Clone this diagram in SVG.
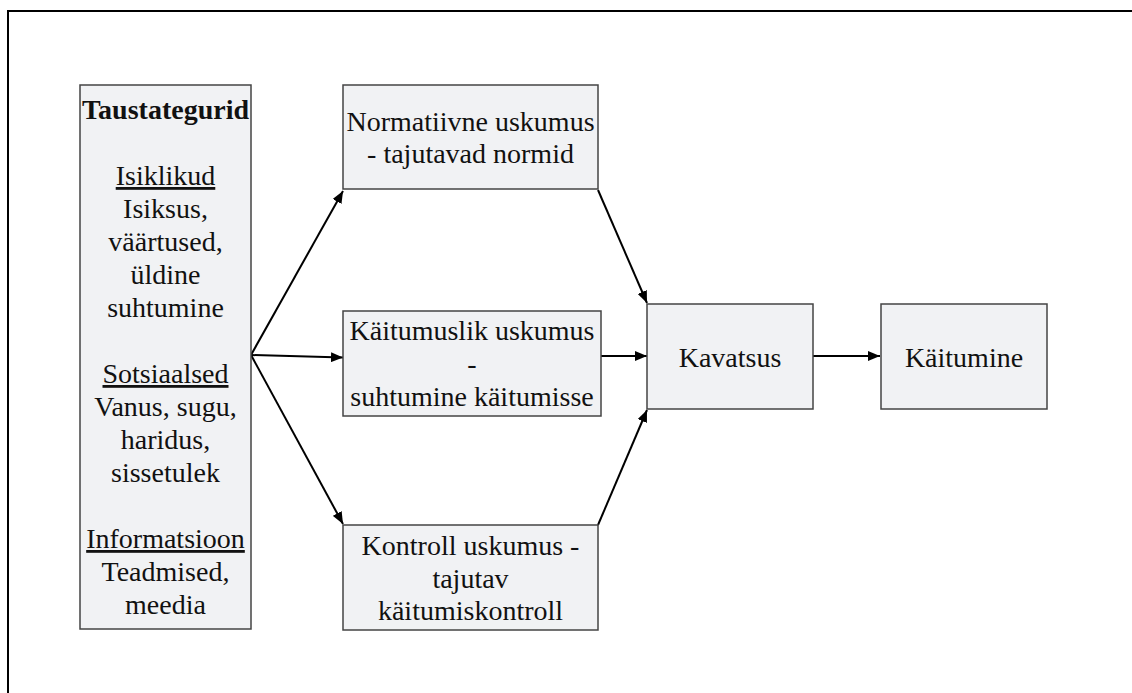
<svg xmlns="http://www.w3.org/2000/svg" width="1132" height="693" viewBox="0 0 1132 693">
<defs>
<marker id="ah" viewBox="0 0 12 10" refX="12" refY="5" markerWidth="12" markerHeight="10" markerUnits="userSpaceOnUse" orient="auto">
<path d="M0,0 L12,5 L0,10 Z" fill="#000"/>
</marker>
<style>
.box{fill:#f1f2f4;stroke:#444;stroke-width:1.5}
.t{font-family:"Liberation Serif","Times New Roman",serif;font-size:28px;fill:#111;text-anchor:middle}
.b{font-weight:bold}
.u{text-decoration:underline}
.c{stroke:#000;stroke-width:2;fill:none;marker-end:url(#ah)}
</style>
</defs>
<rect width="1132" height="693" fill="#fff"/>
<rect x="8" y="11" width="1200" height="800" fill="none" stroke="#000" stroke-width="2"/>
<g id="connectors">
<line class="c" x1="251" y1="355" x2="343" y2="191"/>
<line class="c" x1="251" y1="355" x2="343" y2="357.5"/>
<line class="c" x1="251" y1="355" x2="343" y2="524"/>
<line class="c" x1="598" y1="190" x2="647" y2="303"/>
<line class="c" x1="601" y1="356" x2="647" y2="356"/>
<line class="c" x1="598" y1="525" x2="647" y2="410"/>
<line class="c" x1="813" y1="356" x2="880" y2="356"/>
</g>
<g id="taustategurid">
<rect class="box" x="80" y="85" width="171" height="544"/>
<text class="t b" x="165.5" y="119">Taustategurid</text>
<text class="t u" x="165.5" y="185">Isiklikud</text>
<text class="t" x="165.5" y="218">Isiksus,</text>
<text class="t" x="165.5" y="251">väärtused,</text>
<text class="t" x="165.5" y="284">üldine</text>
<text class="t" x="165.5" y="317">suhtumine</text>
<text class="t u" x="165.5" y="383">Sotsiaalsed</text>
<text class="t" x="165.5" y="416">Vanus, sugu,</text>
<text class="t" x="165.5" y="449">haridus,</text>
<text class="t" x="165.5" y="482">sissetulek</text>
<text class="t u" x="165.5" y="548">Informatsioon</text>
<text class="t" x="165.5" y="581">Teadmised,</text>
<text class="t" x="165.5" y="614">meedia</text>
</g>
<g id="normatiivne">
<rect class="box" x="343" y="85" width="255" height="104"/>
<text class="t" x="470.5" y="131">Normatiivne uskumus</text>
<text class="t" x="470.5" y="163">- tajutavad normid</text>
</g>
<g id="kaitumuslik">
<rect class="box" x="343" y="311" width="258" height="105"/>
<text class="t" x="472" y="340">Käitumuslik uskumus</text>
<text class="t" x="472" y="373">-</text>
<text class="t" x="472" y="406">suhtumine käitumisse</text>
</g>
<g id="kontroll">
<rect class="box" x="343" y="525" width="255" height="105"/>
<text class="t" x="470.5" y="555">Kontroll uskumus -</text>
<text class="t" x="470.5" y="588">tajutav</text>
<text class="t" x="470.5" y="620">käitumiskontroll</text>
</g>
<g id="kavatsus">
<rect class="box" x="647" y="304" width="166" height="105"/>
<text class="t" x="730" y="367">Kavatsus</text>
</g>
<g id="kaitumine">
<rect class="box" x="881" y="304" width="166" height="105"/>
<text class="t" x="964" y="367">Käitumine</text>
</g>
</svg>
